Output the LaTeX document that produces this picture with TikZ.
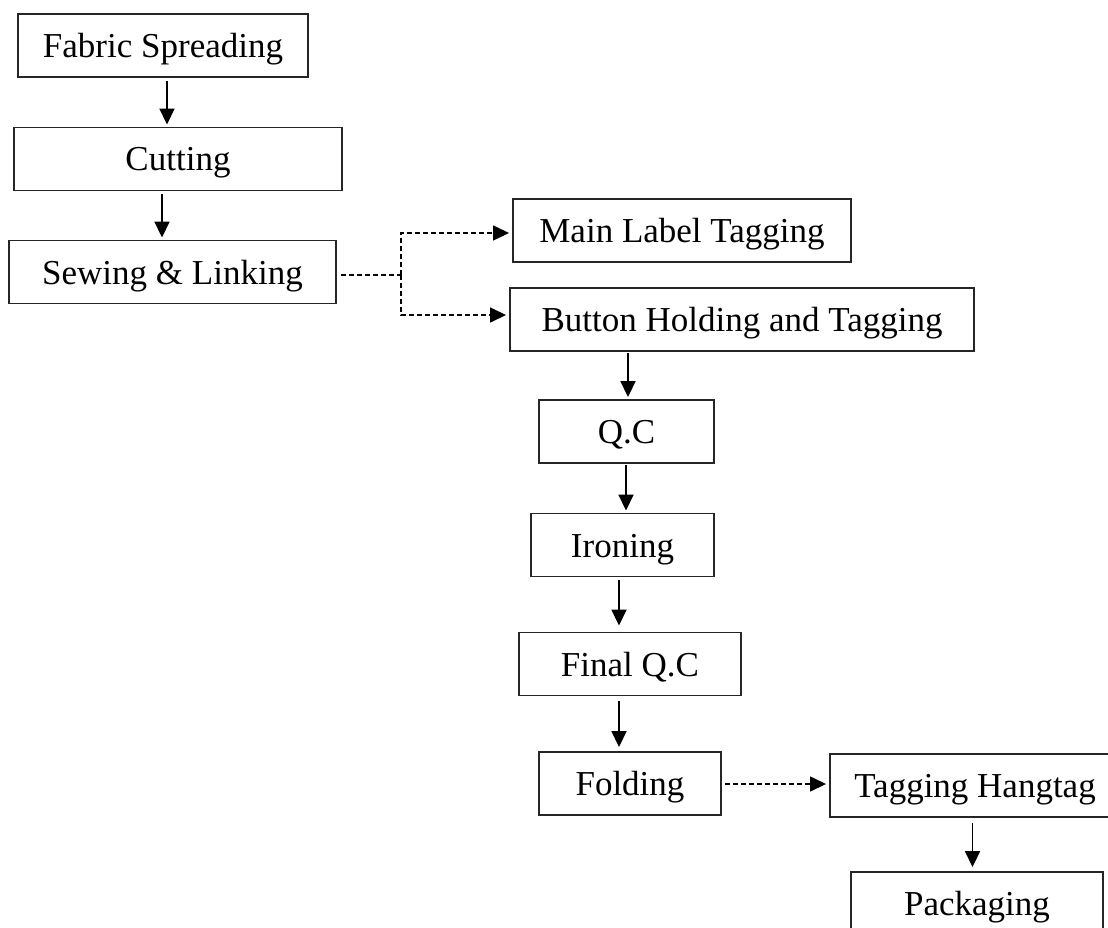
\documentclass[tikz,border=0pt]{standalone}
\usepackage{fontspec}
\setmainfont{Liberation Serif}
\usetikzlibrary{arrows.meta}
\begin{document}
\begin{tikzpicture}[x=1pt,y=-1pt,
  box/.style={draw=black!85, line width=1.9pt, inner sep=0pt, minimum height=63pt,
    text height=24pt, text depth=0pt,
    font=\fontsize{35}{42}\selectfont, text=black},
  arr/.style={line width=1.8pt, -{Triangle[length=16pt,width=15pt]}},
  darr/.style={line width=1.4pt, dash pattern=on 5pt off 3pt, -{Triangle[length=16pt,width=15pt]}},
  dline/.style={line width=1.4pt, dash pattern=on 5pt off 3pt}]
\useasboundingbox (0,0) rectangle (1108,928);
\fill[white] (0,0) rectangle (1108,928);
\node[box, minimum width=290pt] (fab) at (163,45.5) {Fabric Spreading};
\node[box, minimum width=328pt] (cut) at (178,159) {Cutting};
\node[box, minimum width=327pt] (sew) at (172.5,272) {Sewing \& Linking};
\node[box, minimum width=338pt] (main) at (682,230.5) {Main Label Tagging};
\node[box, minimum width=464pt] (but) at (742,319.5) {Button Holding and Tagging};
\node[box, minimum width=175pt] (qc) at (626.5,431.5) {Q.C};
\node[box, minimum width=183pt] (iron) at (622.5,545) {Ironing};
\node[box, minimum width=222pt] (fin) at (630,664) {Final Q.C};
\node[box, minimum width=182pt] (fold) at (630,783.5) {Folding};
\node[box, minimum width=290pt] (tag) at (975,785.5) {Tagging Hangtag};
\node[box, minimum width=252pt] (pack) at (977,903.5) {Packaging};

\draw[arr] ([xshift=4pt,yshift=-3pt]fab.south) -- ([xshift=-11pt,yshift=2pt]cut.north);
\draw[arr] ([xshift=-16pt,yshift=-3pt]cut.south) -- ([xshift=-10.5pt,yshift=2pt]sew.north);
\draw[dline] ([xshift=4pt,yshift=-3pt]sew.east) -- ++(60,0) coordinate (j);
\draw[darr] (j) |- ([xshift=-3pt,yshift=-2.5pt]main.west);
\draw[darr] (j) |- ([xshift=-3pt,yshift=4.5pt]but.west);
\draw[arr] ([xshift=-114pt,yshift=-1pt]but.south) -- ([xshift=1.5pt,yshift=2pt]qc.north);
\draw[arr] ([xshift=-0.5pt,yshift=-1pt]qc.south) -- ([xshift=3.5pt,yshift=2pt]iron.north);
\draw[arr] ([xshift=-3.5pt,yshift=-3pt]iron.south) -- ([xshift=-11pt,yshift=6pt]fin.north);
\draw[arr] ([xshift=-11pt,yshift=-5pt]fin.south) -- ([xshift=-11pt,yshift=4pt]fold.north);
\draw[darr] ([xshift=3pt,yshift=-0.5pt]fold.east) -- ([xshift=-3pt,yshift=1.5pt]tag.west);
\draw[arr] ([xshift=-2.5pt,yshift=-5pt]tag.south) -- ([xshift=-4.5pt,yshift=4pt]pack.north);
\end{tikzpicture}
\end{document}
